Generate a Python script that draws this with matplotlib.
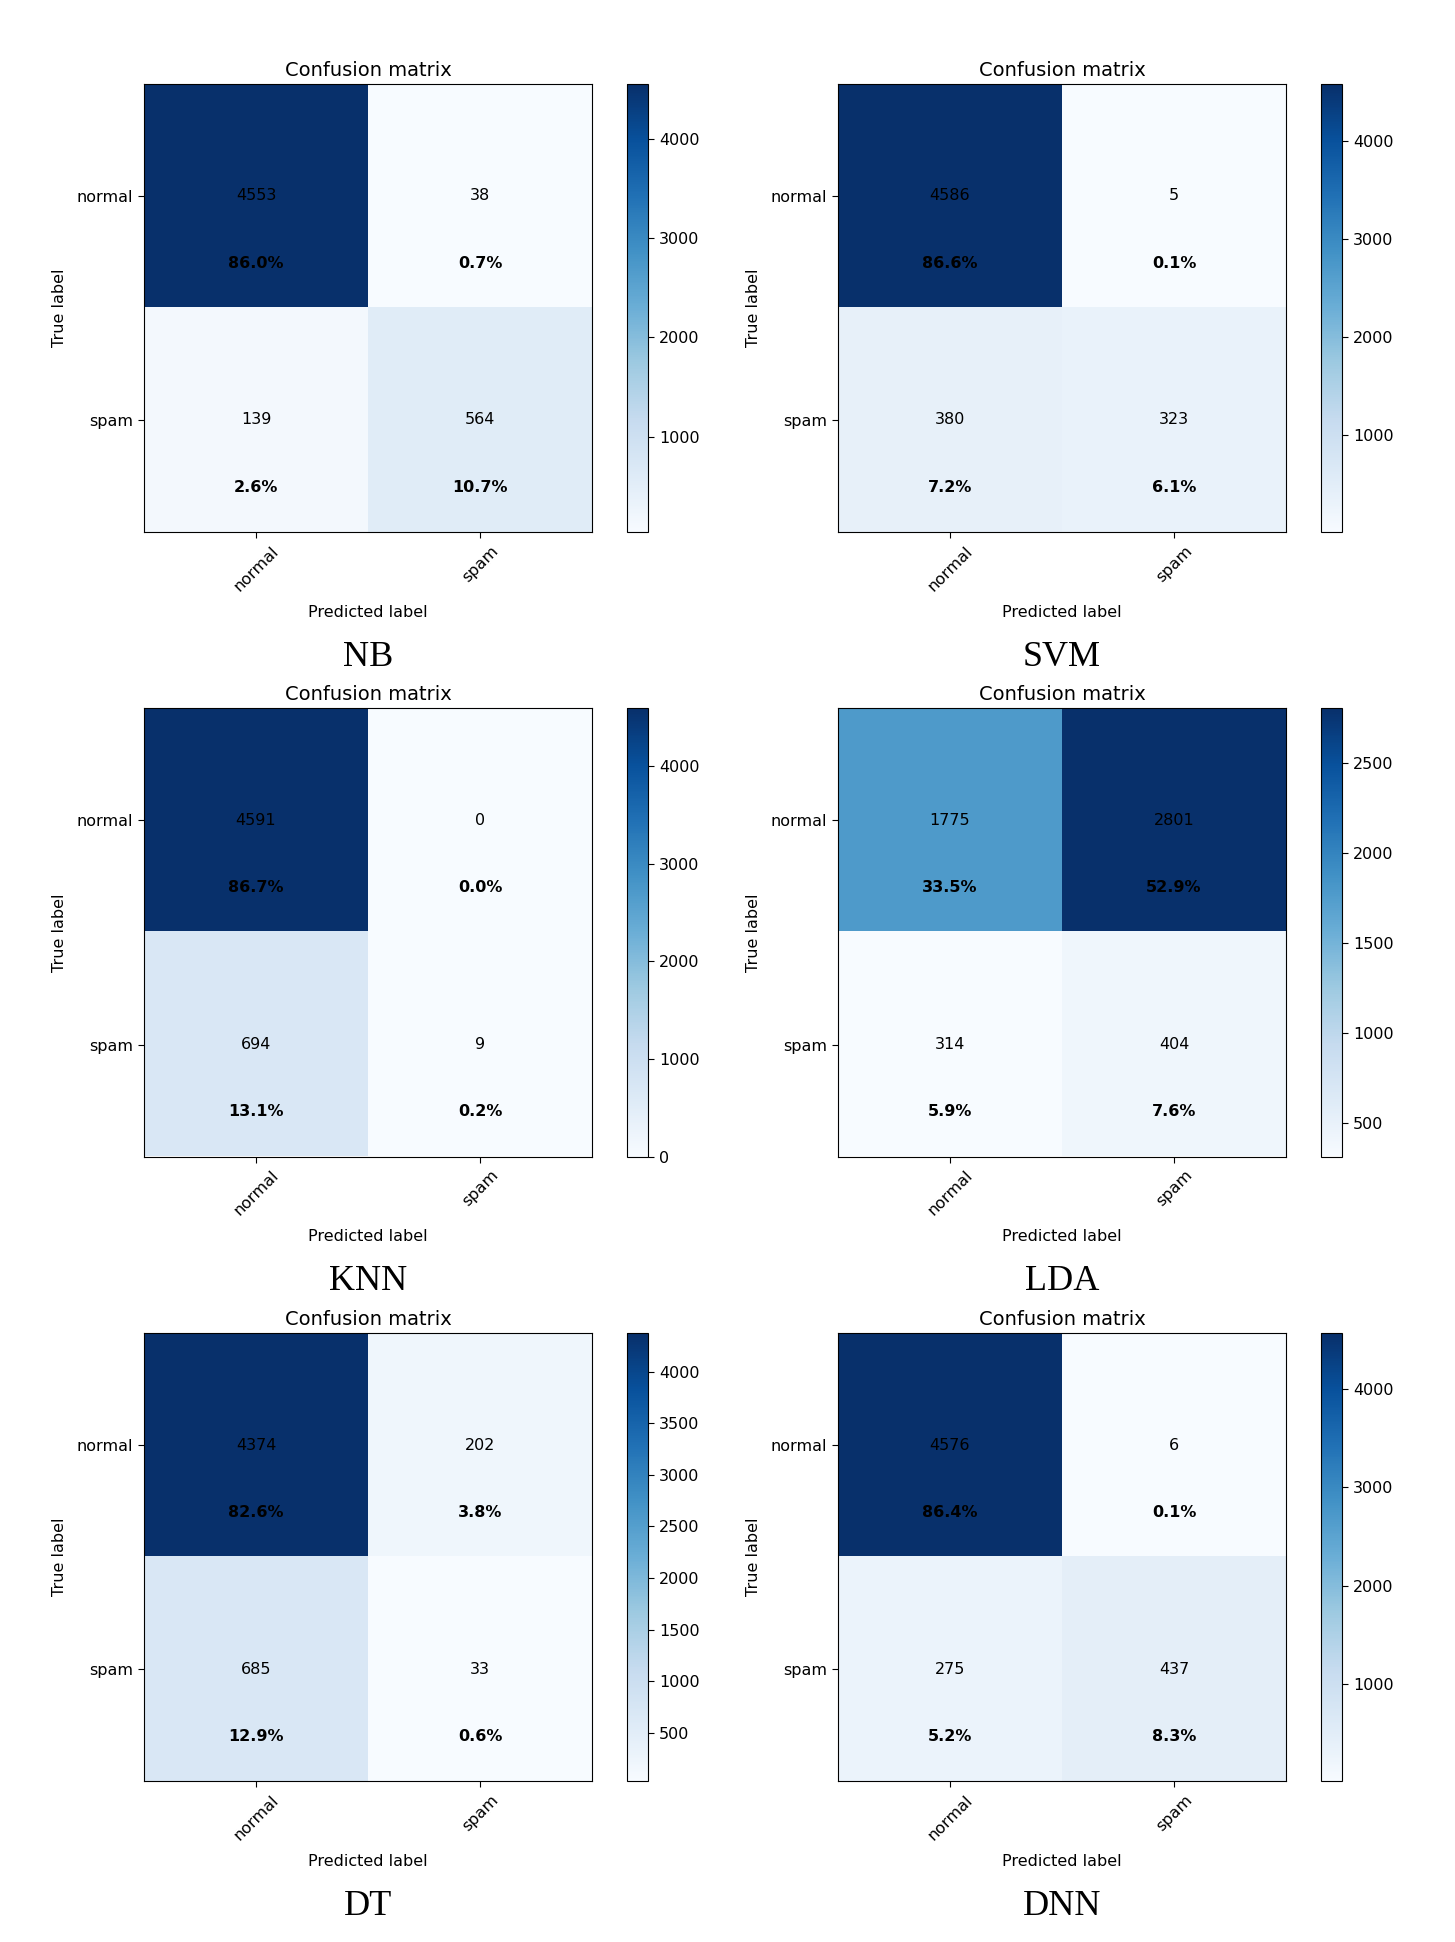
import matplotlib
matplotlib.use("Agg")
import matplotlib.pyplot as plt
import numpy as np

classes = ["normal", "spam"]
models = ["NB", "SVM", "KNN", "LDA", "DT", "DNN"]

cm_nb = [[4553, 38], [139, 564]]
cm_svm = [[4586, 5], [380, 323]]
cm_knn = [[4591, 0], [694, 9]]
cm_lda = [[1775, 2801], [314, 404]]
cm_dt = [[4374, 202], [685, 33]]
cm_dnn = [[4576, 6], [275, 437]]

matrices = [cm_nb, cm_svm, cm_knn, cm_lda, cm_dt, cm_dnn]

W, H = 1455, 1942
fig = plt.figure(figsize=(W / 100, H / 100), dpi=100)

# pixel layout of the panels
col_left = [144, 838]
row_top = [84, 708.5, 1333]
size = 448
cb_gap = 35
cb_w = 21


def px_axes(x, y, w, h):
    return fig.add_axes([x / W, 1 - (y + h) / H, w / W, h / H])


def plot_cm(ax, cax, cm, name):
    cm = np.array(cm)
    total = cm.sum()
    im = ax.imshow(cm, interpolation="nearest", cmap=plt.cm.Blues, aspect="auto")
    ax.set_title("Confusion matrix", fontsize=14)
    cb = fig.colorbar(im, cax=cax)
    cb.ax.tick_params(labelsize=11.5, length=4, pad=4)
    ticks = np.arange(len(classes))
    ax.set_xticks(ticks)
    ax.set_xticklabels(classes, rotation=45, fontsize=11.5)
    ax.set_yticks(ticks)
    ax.set_yticklabels(classes, fontsize=11.5)
    ax.tick_params(length=4, pad=4)
    for i in range(cm.shape[0]):
        for j in range(cm.shape[1]):
            ax.text(j, i, str(cm[i, j]), ha="center", va="center",
                    color="black", fontsize=11.5)
            ax.text(j, i + 0.3, "{:.1f}%".format(cm[i, j] / total * 100),
                    ha="center", va="center", color="black",
                    fontsize=11.5, fontweight="bold")
    ax.set_ylabel("True label", fontsize=11.5, labelpad=7)
    ax.set_xlabel("Predicted label", fontsize=11.5, labelpad=8)
    ax.text(0.5, -0.28, name, transform=ax.transAxes, ha="center",
            va="center", fontsize=26, family="Liberation Serif")


for k, (cm, name) in enumerate(zip(matrices, models)):
    r, c = divmod(k, 2)
    x = col_left[c]
    y = row_top[r]
    ax = px_axes(x, y, size, size)
    cax = px_axes(x + size + cb_gap, y, cb_w, size)
    plot_cm(ax, cax, cm, name)

fig.savefig("out.png", dpi=100, facecolor="white")
